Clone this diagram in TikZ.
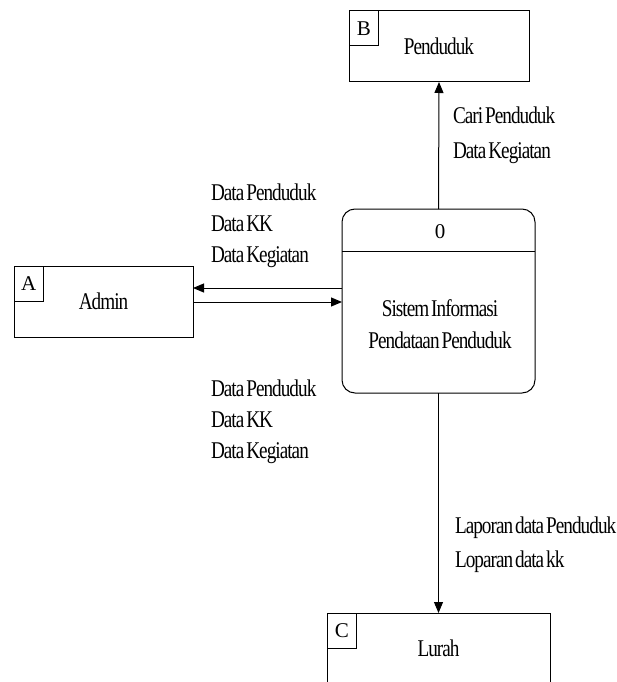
\documentclass[tikz,border=0pt]{standalone}
\usepackage{fontspec}
\setmainfont{Liberation Serif}[FakeStretch=0.8,LetterSpace=-4,WordSpace=0.5]
\newfontfamily\plainfont{Liberation Serif}
\usetikzlibrary{arrows.meta,calc}
\begin{document}
\begin{tikzpicture}[x=1pt,y=-1pt,
  every node/.style={inner sep=0pt,outer sep=0pt},
  line/.style={line width=1pt},
  flow/.style={line width=1pt,-{Triangle[length=11pt,width=9pt]}},
  entity/.style={draw,line width=1pt,minimum height=71pt,font=\fontsize{24}{28}\selectfont},
  tag/.style={draw,line width=1pt,minimum width=29.5pt,minimum height=35pt,anchor=north west,font=\plainfont\fontsize{21}{24}\selectfont},
  proc/.style={draw,line width=1pt,rounded corners=13pt,minimum width=193pt,minimum height=184pt},
  lbl/.style={align=left,anchor=west,font=\fontsize{24}{31}\selectfont},
  ptext/.style={align=center,font=\fontsize{24}{32}\selectfont}]
\clip (0,0) rectangle (617,682);
\useasboundingbox (0,0) rectangle (617,682);
% entities
\node[entity,minimum width=180pt] (B) at (439,46.5) {\raisebox{-2pt}{Penduduk}};
\node[tag] (Bt) at (B.north west) {B};
\node[entity,minimum width=179pt] (A) at (103.5,301.5) {\raisebox{-3pt}{Admin}};
\node[tag] (At) at (A.north west) {A};
\node[entity,minimum width=223pt] (C) at (438.5,648.5) {\raisebox{-3pt}{Lurah}};
\node[tag] (Ct) at (C.north west) {C};
% process
\node[proc] (P) at (438.5,301) {};
\coordinate (d1) at ($(P.west)+(0,-50)$);
\coordinate (d2) at ($(P.east)+(0,-50)$);
\draw[line] (d1) -- (d2);
\node[font=\plainfont\fontsize{21}{24}\selectfont] (P0) at (440,232) {0};
\node[ptext] (Ptx) at (440,324) {Sistem Informasi\\Pendataan Penduduk};
% flows
\draw[flow] (P.north) -- (B.south);
\draw[flow] (P.south) -- (C.north);
\draw[flow] ($(P.west)+(0,-13)$) -- ($(A.east)+(0,-13.5)$);
\draw[flow] ($(A.east)+(0,0.5)$) -- ($(P.west)+(0,1)$);
% labels
\node[lbl] (l1) at (453,135.5) {Cari Penduduk\\[4pt]Data Kegiatan};
\node[lbl] (l2) at (211,226) {Data Penduduk\\Data KK\\Data Kegiatan};
\node[lbl] (l3) at (211,421.5) {Data Penduduk\\Data KK\\Data Kegiatan};
\node[lbl] (l4) at (455,545) {Laporan data Penduduk\\[3pt]Loparan data kk};
\end{tikzpicture}
\end{document}
